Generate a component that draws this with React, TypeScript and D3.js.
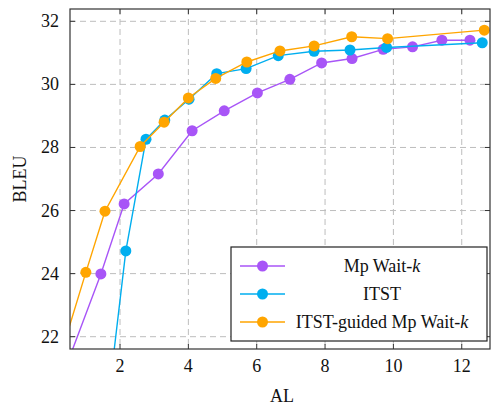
import * as d3 from "d3";

const mpAL = [0.3, 1.44, 2.12, 3.12, 4.11, 5.05, 6.02, 6.97, 7.9, 8.79, 9.7, 10.56, 11.42, 12.24];
const mpBLEU = [20.7, 23.99, 26.21, 27.16, 28.53, 29.16, 29.73, 30.16, 30.68, 30.82, 31.11, 31.19, 31.4, 31.4];

const itstAL = [1.7, 2.17, 2.76, 3.31, 4.02, 4.83, 5.69, 6.63, 7.68, 8.73, 9.8, 12.6];
const itstBLEU = [20.4, 24.72, 28.26, 28.87, 29.53, 30.34, 30.5, 30.91, 31.05, 31.09, 31.17, 31.32];

const guidedAL = [0.2, 1.0, 1.56, 2.59, 3.29, 4.0, 4.8, 5.71, 6.68, 7.68, 8.78, 9.83, 12.66];
const guidedBLEU = [21.2, 24.04, 25.98, 28.03, 28.8, 29.57, 30.19, 30.71, 31.06, 31.22, 31.51, 31.45, 31.72];

const xTicks = [2, 4, 6, 8, 10, 12];
const yTicks = [22, 24, 26, 28, 30, 32];

const series = [
  { name: "Mp Wait-", italic: "k", color: "#a855f7", xs: mpAL, ys: mpBLEU },
  { name: "ITST", italic: "", color: "#00aeef", xs: itstAL, ys: itstBLEU },
  { name: "ITST-guided Mp Wait-", italic: "k", color: "#ffa500", xs: guidedAL, ys: guidedBLEU },
];

const W = 492;
const H = 405;
const left = 70, right = 490, top = 9, bottom = 349;
const font = "'Liberation Serif', 'DejaVu Serif', serif";

export default function App() {
  const x = d3.scaleLinear().domain([0.536, 12.827]).range([left, right]);
  const y = d3.scaleLinear().domain([21.61, 32.39]).range([bottom, top]);

  const line = d3
    .line<[number, number]>()
    .x((d) => x(d[0]))
    .y((d) => y(d[1]));

  const legend = { x0: 231, y0: 247, x1: 487, y1: 341 };
  const rowY = [266, 294, 322];

  return (
    <svg
      width={W}
      height={H}
      style={{ position: "absolute", left: 0, top: 0, background: "#fff" }}
      fontFamily={font}
    >
      <defs>
        <clipPath id="plot">
          <rect x={left} y={top} width={right - left} height={bottom - top} />
        </clipPath>
      </defs>

      {/* grid */}
      {xTicks.map((t) => (
        <line key={"gx" + t} x1={x(t)} x2={x(t)} y1={top} y2={bottom} stroke="#bdbdbd" strokeDasharray="6 4" />
      ))}
      {yTicks.map((t) => (
        <line key={"gy" + t} x1={left} x2={right} y1={y(t)} y2={y(t)} stroke="#bdbdbd" strokeDasharray="6 4" />
      ))}

      {/* ticks */}
      {xTicks.map((t) => (
        <g key={"tx" + t}>
          <line x1={x(t)} x2={x(t)} y1={bottom} y2={bottom - 5} stroke="#333" />
          <line x1={x(t)} x2={x(t)} y1={top} y2={top + 5} stroke="#333" />
          <text x={x(t)} y={372} textAnchor="middle" fontSize={18} fill="#111">
            {t}
          </text>
        </g>
      ))}
      {yTicks.map((t) => (
        <g key={"ty" + t}>
          <line x1={left} x2={left + 5} y1={y(t)} y2={y(t)} stroke="#333" />
          <line x1={right} x2={right - 5} y1={y(t)} y2={y(t)} stroke="#333" />
          <text x={59} y={y(t) + 6} textAnchor="end" fontSize={18} fill="#111">
            {t}
          </text>
        </g>
      ))}

      {/* series */}
      <g clipPath="url(#plot)">
        {series.map((s) => {
          const pts = s.xs.map((v, i) => [v, s.ys[i]] as [number, number]);
          return (
            <g key={s.name + s.color}>
              <path d={line(pts) || ""} fill="none" stroke={s.color} strokeWidth={1.4} />
              {pts.map((p, i) => (
                <circle key={i} cx={x(p[0])} cy={y(p[1])} r={5.5} fill={s.color} />
              ))}
            </g>
          );
        })}
      </g>

      {/* frame */}
      <rect x={left} y={top} width={right - left} height={bottom - top} fill="none" stroke="#333" strokeWidth={1.2} />

      {/* legend */}
      <rect
        x={legend.x0}
        y={legend.y0}
        width={legend.x1 - legend.x0}
        height={legend.y1 - legend.y0}
        fill="#fff"
        stroke="#222"
        strokeWidth={1.2}
      />
      {series.map((s, i) => (
        <g key={"lg" + i}>
          <line x1={240} x2={285} y1={rowY[i]} y2={rowY[i]} stroke={s.color} strokeWidth={1.4} />
          <circle cx={262.5} cy={rowY[i]} r={5.5} fill={s.color} />
          <text x={382} y={rowY[i] + 6} textAnchor="middle" fontSize={18} fill="#111">
            {s.name}
            {s.italic && <tspan fontStyle="italic">{s.italic}</tspan>}
          </text>
        </g>
      ))}

      {/* axis labels */}
      <text x={282} y={402} textAnchor="middle" fontSize={18} fill="#111">
        AL
      </text>
      <text
        transform={`translate(26,179) rotate(-90)`}
        textAnchor="middle"
        fontSize={18}
        fill="#111"
      >
        BLEU
      </text>
    </svg>
  );
}
